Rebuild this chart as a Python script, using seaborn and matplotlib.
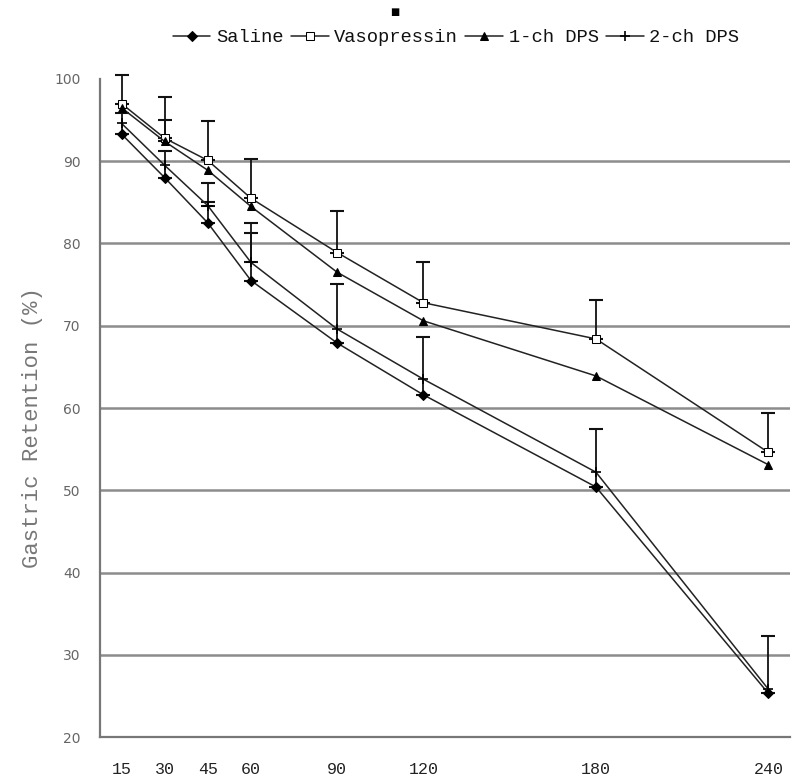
import numpy as np
import pandas as pd
import matplotlib
matplotlib.use("Agg")
import matplotlib.pyplot as plt
import seaborn as sns

# time points (min)
times = [15, 30, 45, 60, 90, 120, 180, 240]
tick_labels = ["15", "30", "45", "60", "90", "120", "180", "240"]

# gastric retention (%)
saline = [93.3, 88.0, 82.5, 75.5, 67.9, 61.6, 50.4, 25.3]
vasopressin = [97.0, 92.8, 90.1, 85.5, 78.9, 72.8, 68.4, 54.6]
dps_1ch = [96.5, 92.4, 88.9, 84.5, 76.5, 70.6, 63.9, 53.1]
dps_2ch = [94.6, 89.5, 84.6, 77.7, 69.6, 63.5, 52.2, 25.8]

# upper error bar tops (NaN = no bar visible)
saline_top = [95.9, 91.2, 85.0, 81.3, 75.1, 68.6, 57.4, 32.3]
vasopressin_top = [100.5, 97.8, 94.9, 90.3, 84.0, 77.7, 73.1, 59.4]
dps_1ch_top = [np.nan, 95.0, np.nan, np.nan, np.nan, np.nan, np.nan, np.nan]
dps_2ch_top = [np.nan, np.nan, 87.4, 82.5, np.nan, np.nan, np.nan, np.nan]

series = [
    ("Saline", saline, saline_top, dict(marker="D", markersize=5, markerfacecolor="black")),
    ("Vasopressin", vasopressin, vasopressin_top, dict(marker="s", markersize=6, markerfacecolor="white")),
    ("1-ch DPS", dps_1ch, dps_1ch_top, dict(marker="^", markersize=6, markerfacecolor="black")),
    ("2-ch DPS", dps_2ch, dps_2ch_top, dict(marker="+", markersize=7, markeredgewidth=1.2)),
]

sns.set_style("white")
plt.rcParams["font.family"] = ["Liberation Mono", "DejaVu Sans"]

fig = plt.figure(figsize=(8, 7.82), dpi=100)
ax = fig.add_axes([0.125, 0.0575, 0.8625, 0.8415])

line_col = "#222222"
for name, vals, tops, style in series:
    df = pd.DataFrame({"t": times, "v": vals})
    sns.lineplot(data=df, x="t", y="v", ax=ax, color=line_col, linewidth=1.1,
                 markeredgecolor="black", label=name, zorder=3, **style)
    tops = np.array(tops, dtype=float)
    vals = np.array(vals)
    mask = ~np.isnan(tops)
    if mask.any():
        t_arr = np.array(times)[mask]
        err = np.vstack([np.zeros(mask.sum()), tops[mask] - vals[mask]])
        eb = ax.errorbar(t_arr, vals[mask], yerr=err, fmt="none", ecolor="#111111",
                         elinewidth=1.3, capsize=5, capthick=1.5, zorder=2)
        for art in eb.lines[1] + eb.lines[2]:
            art.set_clip_on(False)

ax.set_xlim(7.5, 247.5)
ax.set_ylim(20, 100)
ax.set_xticks(times)
ax.set_xticklabels(tick_labels, fontsize=12, color="#222222")
ax.set_xticks(np.arange(22.5, 248, 15), minor=True)
ax.tick_params(axis="x", which="major", length=0, pad=18)
ax.tick_params(axis="x", which="minor", direction="in", length=4, color="#555555")

ax.set_yticks(np.arange(20, 101, 10))
ax.tick_params(axis="y", direction="in", length=6, color="#888888", labelsize=10,
               labelcolor="#666666", pad=14)
for lab in ax.get_yticklabels():
    lab.set_family("DejaVu Sans")
for yv in range(30, 100, 10):
    ax.axhline(yv, color="#8c8c8c", linewidth=1.8, zorder=1)

ax.set_ylabel("Gastric Retention (%)", fontsize=16, color="#777777")
ax.yaxis.set_label_coords(-0.082, 0.47)
ax.set_xlabel("")

for side in ["top", "right"]:
    ax.spines[side].set_visible(False)
for side in ["left", "bottom"]:
    ax.spines[side].set_color("#777777")
    ax.spines[side].set_linewidth(1.6)

leg = ax.legend(loc="center", bbox_to_anchor=(0.516, 1.063), ncol=4, frameon=False,
                fontsize=13.5, handlelength=2.0, handletextpad=0.3, columnspacing=0.4,
                borderaxespad=0.0)
for txt in leg.get_texts():
    txt.set_color("#111111")

fig.text(0.494, 0.985, "■", ha="center", va="center", fontsize=7,
         family="DejaVu Sans", color="black")

fig.savefig("out.png", dpi=100)
